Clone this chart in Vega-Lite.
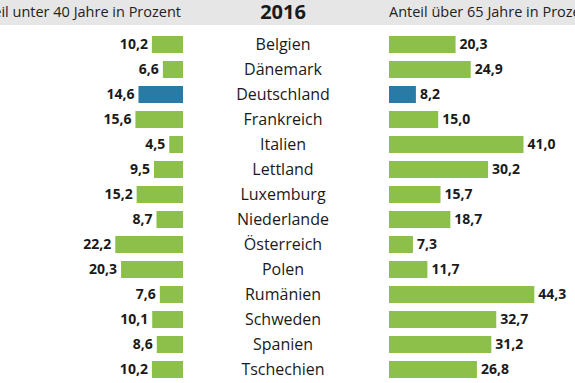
{
  "$schema": "https://vega.github.io/schema/vega-lite/v6.json",
  "padding": 0,
  "background": "white",
  "spacing": 7,
  "config": {
    "view": {"stroke": null},
    "font": "Open Sans",
    "locale": {"number": {"decimal": ",", "thousands": ".", "grouping": [3], "currency": ["", " €"]}},
    "concat": {"spacing": 0}
  },
  "datasets": {
    "laender": [
      {"land": "Belgien", "u40": 10.2, "u65": 20.3},
      {"land": "Dänemark", "u40": 6.6, "u65": 24.9},
      {"land": "Deutschland", "u40": 14.6, "u65": 8.2},
      {"land": "Frankreich", "u40": 15.6, "u65": 15.0},
      {"land": "Italien", "u40": 4.5, "u65": 41.0},
      {"land": "Lettland", "u40": 9.5, "u65": 30.2},
      {"land": "Luxemburg", "u40": 15.2, "u65": 15.7},
      {"land": "Niederlande", "u40": 8.7, "u65": 18.7},
      {"land": "Österreich", "u40": 22.2, "u65": 7.3},
      {"land": "Polen", "u40": 20.3, "u65": 11.7},
      {"land": "Rumänien", "u40": 7.6, "u65": 44.3},
      {"land": "Schweden", "u40": 10.1, "u65": 32.7},
      {"land": "Spanien", "u40": 8.6, "u65": 31.2},
      {"land": "Tschechien", "u40": 10.2, "u65": 26.8}
    ],
    "kopf": [{"links": "Anteil unter 40 Jahre in Prozent", "mitte": "2016", "rechts": "Anteil über 65 Jahre in Prozent", "pos": 0, "mpos": 0.5}]
  },
  "vconcat": [
    {
      "hconcat": [
        {
          "width": 183, "height": 25,
          "view": {"fill": "#e6e6e6", "stroke": null},
          "data": {"name": "kopf"},
          "mark": {"type": "text", "align": "right", "baseline": "middle", "dx": -2, "fontSize": 14.5, "color": "#222222", "clip": true},
          "encoding": {
            "x": {"field": "pos", "type": "quantitative", "scale": {"domain": [0, 60], "reverse": true}, "axis": null},
            "text": {"field": "links"}
          }
        },
        {
          "width": 206, "height": 25,
          "view": {"fill": "#e6e6e6", "stroke": null},
          "data": {"name": "kopf"},
          "mark": {"type": "text", "align": "center", "baseline": "middle", "dx": -3, "fontSize": 20, "fontWeight": "bold", "color": "#1a1a1a"},
          "encoding": {
            "x": {"field": "mpos", "type": "quantitative", "scale": {"domain": [0, 1]}, "axis": null},
            "text": {"field": "mitte"}
          }
        },
        {
          "width": 186, "height": 25,
          "view": {"fill": "#e6e6e6", "stroke": null},
          "data": {"name": "kopf"},
          "mark": {"type": "text", "align": "left", "baseline": "middle", "dx": 0, "fontSize": 14.5, "color": "#222222", "clip": true},
          "encoding": {
            "x": {"field": "pos", "type": "quantitative", "scale": {"domain": [0, 56.7]}, "axis": null},
            "text": {"field": "rechts"}
          }
        }
      ]
    },
    {
      "hconcat": [
        {
          "width": 183, "height": 350,
          "data": {"name": "laender"},
          "encoding": {
            "y": {"field": "land", "type": "nominal", "sort": null, "axis": null, "scale": {"paddingInner": 0.32, "paddingOuter": 0.16}},
            "x": {"field": "u40", "type": "quantitative", "scale": {"domain": [0, 60], "reverse": true}, "axis": null}
          },
          "layer": [
            {
              "mark": {"type": "bar"},
              "encoding": {
                "color": {"condition": {"test": "datum.land === 'Deutschland'", "value": "#2a7aa6"}, "value": "#8cc04b"}
              }
            },
            {
              "mark": {"type": "text", "align": "right", "baseline": "middle", "dx": -4, "fontSize": 14, "fontWeight": "bold", "color": "#1a1a1a"},
              "encoding": {"text": {"field": "u40", "type": "quantitative", "format": ".1f"}}
            }
          ]
        },
        {
          "width": 206, "height": 350,
          "data": {"name": "laender"},
          "mark": {"type": "text", "align": "center", "baseline": "middle", "dx": -3, "fontSize": 16, "color": "#1a1a1a"},
          "encoding": {
            "y": {"field": "land", "type": "nominal", "sort": null, "axis": null, "scale": {"paddingInner": 0.32, "paddingOuter": 0.16}},
            "text": {"field": "land"}
          }
        },
        {
          "width": 186, "height": 350,
          "data": {"name": "laender"},
          "encoding": {
            "y": {"field": "land", "type": "nominal", "sort": null, "axis": null, "scale": {"paddingInner": 0.32, "paddingOuter": 0.16}},
            "x": {"field": "u65", "type": "quantitative", "scale": {"domain": [0, 56.7]}, "axis": null}
          },
          "layer": [
            {
              "mark": {"type": "bar"},
              "encoding": {
                "color": {"condition": {"test": "datum.land === 'Deutschland'", "value": "#2a7aa6"}, "value": "#8cc04b"}
              }
            },
            {
              "mark": {"type": "text", "align": "left", "baseline": "middle", "dx": 4, "fontSize": 14, "fontWeight": "bold", "color": "#1a1a1a"},
              "encoding": {"text": {"field": "u65", "type": "quantitative", "format": ".1f"}}
            }
          ]
        }
      ]
    }
  ]
}
